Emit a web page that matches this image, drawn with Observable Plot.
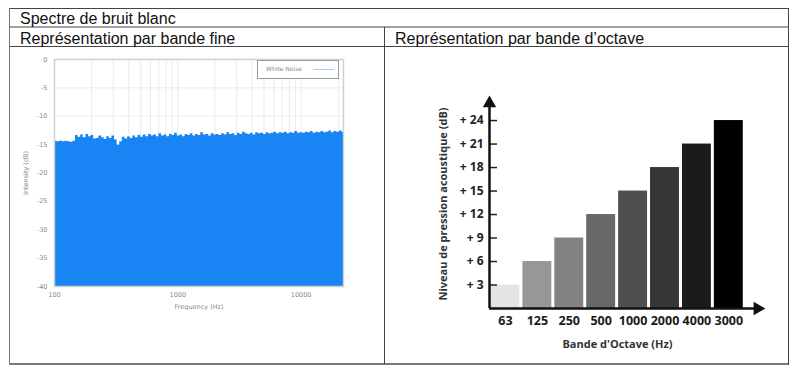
<!DOCTYPE html>
<html><head><meta charset="utf-8">
<script src="https://cdn.jsdelivr.net/npm/d3@7"></script>
<script src="https://cdn.jsdelivr.net/npm/@observablehq/plot@0.6"></script>
<style>
body{margin:0;background:#fff;}
#page{position:relative;width:800px;height:377px;overflow:hidden;font-family:"Liberation Sans",Arial,sans-serif;}
.ln{position:absolute;}
.t{position:absolute;font-size:16px;color:#111;line-height:1;white-space:nowrap;}
.chart{position:absolute;}
#legend{position:absolute;left:257px;top:60px;width:80px;height:17px;border:1px solid #9a9a9a;background:#fff;font-family:"DejaVu Sans",sans-serif;}
#legend span{position:absolute;left:8px;top:5px;font-size:6px;color:#8a8a8a;line-height:1;}
#legend i{position:absolute;left:55px;top:8px;width:21px;height:1px;background:#9ccdfc;}
</style></head>
<body><div id="page">
<div class="ln" style="left:9px;top:8px;width:780px;height:1px;background:#444"></div>
<div class="ln" style="left:9px;top:26px;width:780px;height:2px;background:#a0a0a0"></div>
<div class="ln" style="left:9px;top:46px;width:780px;height:1px;background:#444"></div>
<div class="ln" style="left:9px;top:363px;width:780px;height:2px;background:#7a7a7a"></div>
<div class="ln" style="left:9px;top:8px;width:1px;height:357px;background:#777"></div>
<div class="ln" style="left:788px;top:8px;width:1px;height:357px;background:#444"></div>
<div class="ln" style="left:384px;top:27px;width:1px;height:337px;background:#444"></div>
<div class="t" style="left:20px;top:10.5px">Spectre de bruit blanc</div>
<div class="t" style="left:20px;top:30.5px">Représentation par bande fine</div>
<div class="t" style="left:395px;top:30.5px">Représentation par bande d’octave</div>
<div id="fine" class="chart" style="left:10px;top:48px"></div>
<div id="legend"><span>White Noise</span><i></i></div>
<div id="octave" class="chart" style="left:385px;top:48px"></div>
</div>
<script>
// ---- Fine-band white noise spectrum ----
const freqHz = [100,105,110,116,122,128,134,141,148,155,163,171,180,189,198,208,218,229,241,253,265,278,292,307,322,338,355,373,392,411,432,453,476,500,525,551,579,608,638,670,703,738,775,814,855,898,943,990,1040,1092,1146,1203,1263,1326,1393,1462,1535,1612,1693,1777,1866,1960,2058,2160,2268,2382,2501,2626,2757,2895,3040,3192,3352,3519,3695,3880,4074,4278,4491,4716,4952,5199,5459,5732,6019,6320,6636,6968,7316,7682,8066,8469,8893,9338,9804,10295,10809,11350,11917,12513,13139,13796,14485,15210,15970,16769,17607,18488,19412,20383,21402,22050];
const levelDb = [-14.4,-14.5,-14.4,-14.5,-14.4,-14.5,-14.6,-14.4,-13.4,-13.7,-13.3,-13.8,-13.2,-13.6,-13.4,-14.0,-13.9,-13.5,-13.8,-14.1,-13.6,-13.9,-13.5,-14.2,-15.1,-14.5,-13.7,-14.0,-13.6,-13.9,-13.5,-13.8,-13.4,-13.7,-13.3,-13.6,-13.2,-13.5,-13.3,-13.6,-13.1,-13.5,-13.3,-13.6,-13.2,-13.4,-13.0,-13.5,-13.3,-13.6,-13.2,-13.4,-13.1,-13.5,-13.2,-13.4,-12.9,-13.3,-13.2,-13.5,-13.1,-13.3,-13.2,-13.4,-13.1,-13.3,-12.9,-13.2,-13.1,-13.4,-13.0,-13.2,-12.8,-13.1,-13.2,-13.0,-13.3,-12.9,-13.1,-13.0,-13.2,-12.9,-13.1,-13.0,-12.8,-13.1,-12.9,-13.0,-12.8,-13.1,-12.9,-13.0,-12.7,-13.0,-12.9,-13.0,-12.8,-12.9,-12.7,-13.0,-12.8,-12.9,-12.7,-12.9,-12.8,-12.6,-12.9,-12.7,-12.8,-12.6,-12.8,-12.7];
const fineYTicks = [0,-5,-10,-15,-20,-25,-30,-35,-40];
const fineXTicks = [100,1000,10000];
const fineGrid = [200,300,400,500,600,700,800,900,2000,3000,4000,5000,6000,7000,8000,9000,20000];
const fineDomainX = [100,22050];
const fineFloor = -40;

// ---- Octave-band representation ----
const octaveBands = ["63","125","250","500","1000","2000","4000","3000"];
const octaveLevels = [3,6,9,12,15,18,21,24];
const octaveGrays = ["#e4e4e4","#979797","#828282","#686868","#4f4f4f","#363636","#1b1b1b","#000000"];
const octaveYTicks = [3,6,9,12,15,18,21,24];

const noise = freqHz.map((f,i)=>({f, db: levelDb[i]}));
const grayTxt = "#8a8a8a";

const fine = Plot.plot({
  width:373, height:315, marginLeft:44, marginRight:40, marginTop:11, marginBottom:77,
  style:{fontFamily:"'DejaVu Sans', sans-serif", fontSize:"6.5px", color:grayTxt, background:"transparent", overflow:"visible"},
  x:{type:"log", domain:fineDomainX, axis:null},
  y:{domain:[fineFloor,0], axis:null},
  marks:[
    Plot.ruleX(fineGrid.concat(fineXTicks), {stroke:"#ebebeb", strokeWidth:1}),
    Plot.ruleY(fineYTicks, {stroke:"#ebebeb", strokeWidth:1}),
    Plot.areaY(noise, {x:"f", y1:fineFloor, y2:"db", curve:"step-after", fill:"#1985f5"}),
    Plot.frame({stroke:"#d0d0d0", strokeWidth:1.5}),
    Plot.axisY({ticks:fineYTicks, tickSize:0, tickPadding:7, tickFormat:d=>String(d), label:null, fill:grayTxt}),
    Plot.axisX({ticks:fineXTicks, tickSize:0, tickPadding:6, tickFormat:d=>String(d), label:null, fill:grayTxt}),
    Plot.text(["Frequency (Hz)"], {frameAnchor:"bottom", dy:20, lineAnchor:"middle", fill:grayTxt, fontSize:6.5}),
    Plot.text(["Intensity (dB)"], {frameAnchor:"left", textAnchor:"middle", dx:-29, rotate:-90, fill:grayTxt, fontSize:6.5})
  ]
});
document.getElementById("fine").appendChild(fine);

const bars = octaveBands.map((b,i)=>({band:b, i, level:octaveLevels[i], color:octaveGrays[i]}));
const nb = octaveBands.length;
const octave = Plot.plot({
  width:403, height:315, marginLeft:104, marginRight:23, marginTop:47, marginBottom:55,
  style:{fontFamily:"'Open Sans', sans-serif", color:"#1e1e1e", background:"transparent", overflow:"visible"},
  x:{domain:[0, nb + 0.65], axis:null},
  y:{domain:[0, 27.2], axis:null},
  color:{type:"identity"},
  marks:[
    Plot.rectY(bars, {x1:"i", x2:d=>d.i+1, y1:0, y2:"level", fill:"color", insetLeft:1.5, insetRight:1.5}),
    Plot.ruleY(octaveYTicks, {x1:0, x2:0.25, stroke:"#222", strokeWidth:1.5}),
    Plot.ruleX([0], {y1:0, y2:26.4, stroke:"#111", strokeWidth:2.5}),
    Plot.ruleY([0], {x1:0, x2:nb + 0.4, stroke:"#111", strokeWidth:2.5}),
    Plot.dot([0], {x:0, y:26.2, symbol:"triangle", r:5, fill:"#111"}),
    Plot.dot([0], {x:nb + 0.4, y:0, symbol:"triangle", r:5, rotate:90, fill:"#111"}),
    Plot.text(octaveYTicks, {x:0, y:d=>d, text:d=>"+ "+d, textAnchor:"end", dx:-6, fontSize:12, fontWeight:"bold", fill:"#222"}),
    Plot.text(bars, {x:d=>d.i+0.5, y:0, text:"band", dy:12, fontSize:12.5, fontWeight:"bold", fill:"#1a1a1a"}),
    Plot.text(["Bande d'Octave (Hz)"], {frameAnchor:"bottom", lineAnchor:"middle", dx:-10, dy:36, fontSize:11, fontWeight:"bold", fill:"#333"}),
    Plot.text(["Niveau de pression acoustique (dB)"], {frameAnchor:"left", textAnchor:"middle", dx:-46, dy:2, rotate:-90, fontSize:11, fontWeight:"bold", fill:"#333"})
  ]
});
document.getElementById("octave").appendChild(octave);
</script>
</body></html>
